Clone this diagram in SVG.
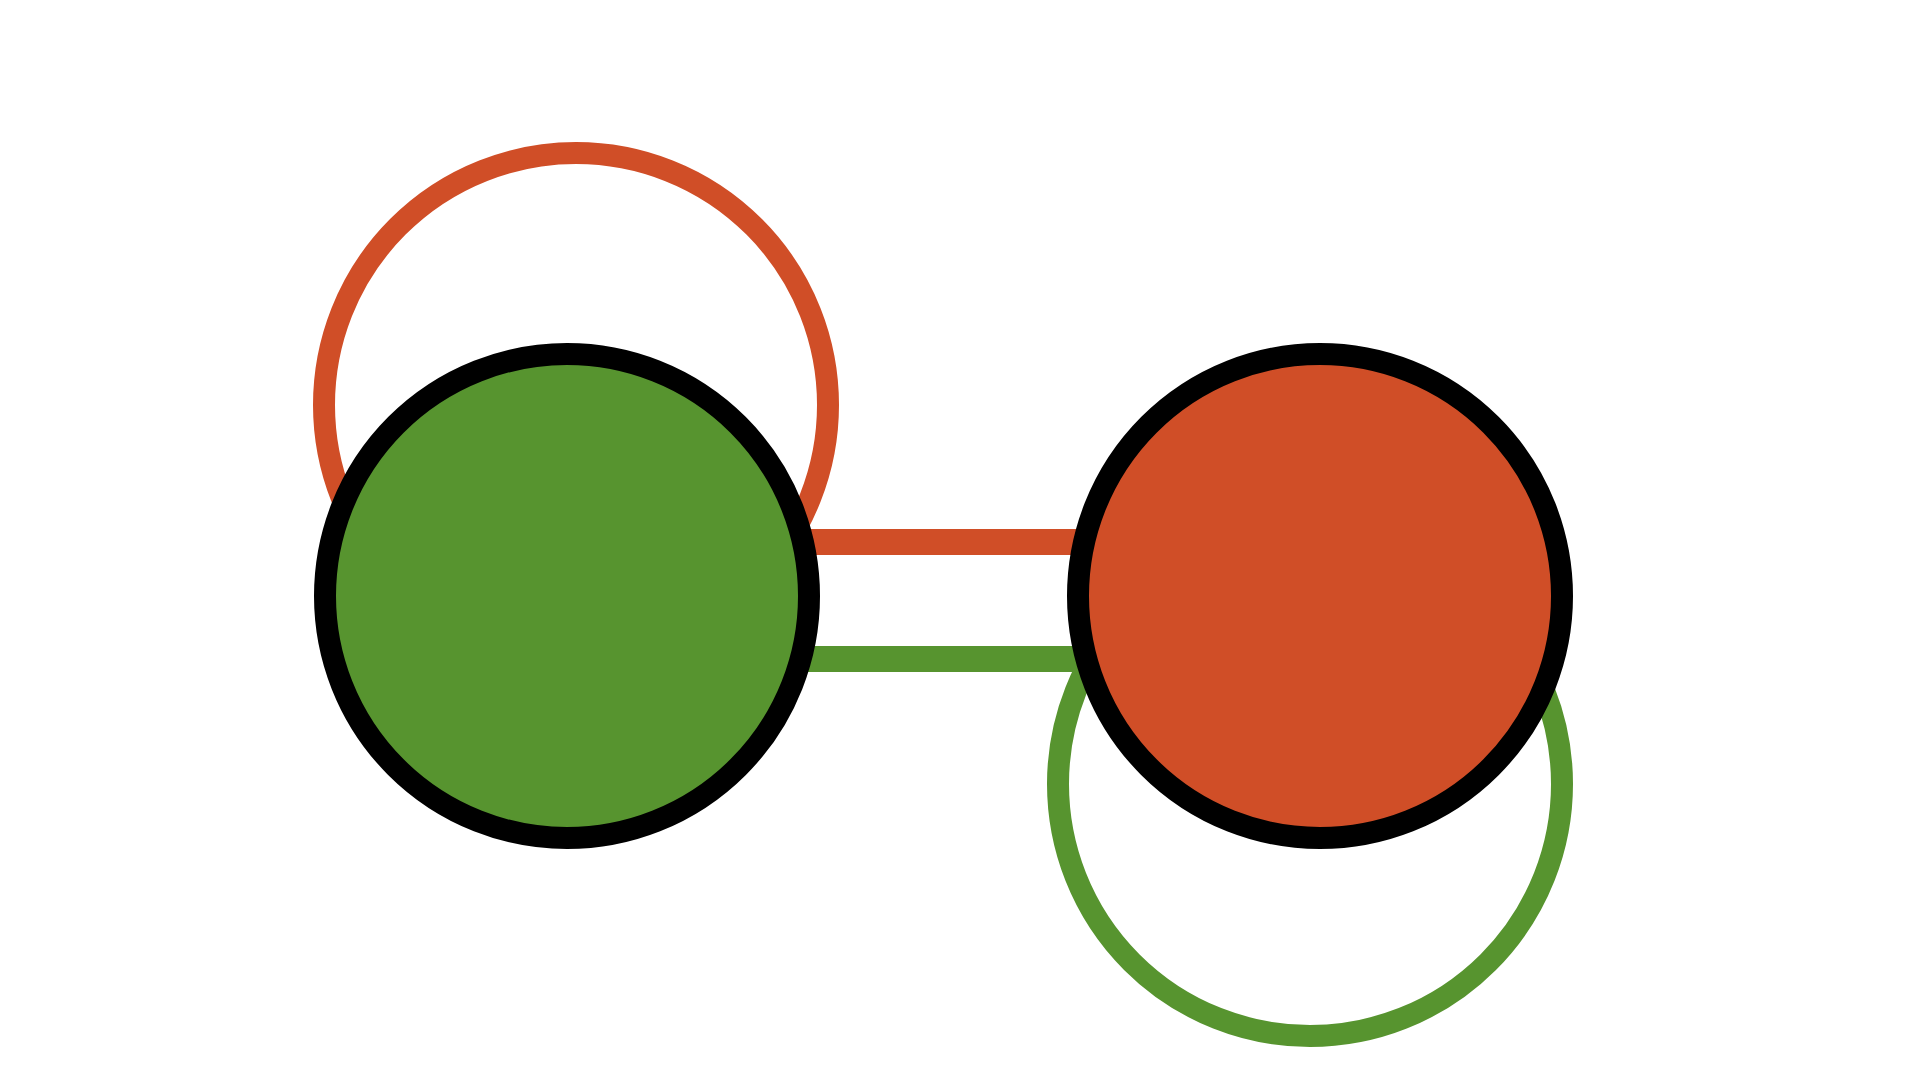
<svg xmlns="http://www.w3.org/2000/svg" width="1920" height="1080" viewBox="0 0 1920 1080">
<style>
.loop{fill:none;stroke-width:22}
.edge{fill:none;stroke-width:26}
.red{stroke:#D04E27}
.green{stroke:#57942F}
.node{stroke:#000;stroke-width:22}
</style>
<rect width="1920" height="1080" fill="#fff"/>
<g id="connectors">
<circle class="loop red" cx="576" cy="405" r="252"/>
<circle class="loop green" cx="1310" cy="784" r="252"/>
<line class="edge red" x1="567" y1="542" x2="1320" y2="542"/>
<line class="edge green" x1="567" y1="659" x2="1320" y2="659"/>
</g>
<g id="node-green">
<circle class="node" cx="567" cy="596" r="242" fill="#57942F"/>
</g>
<g id="node-red">
<circle class="node" cx="1320" cy="596" r="242" fill="#D04E27"/>
</g>
</svg>
